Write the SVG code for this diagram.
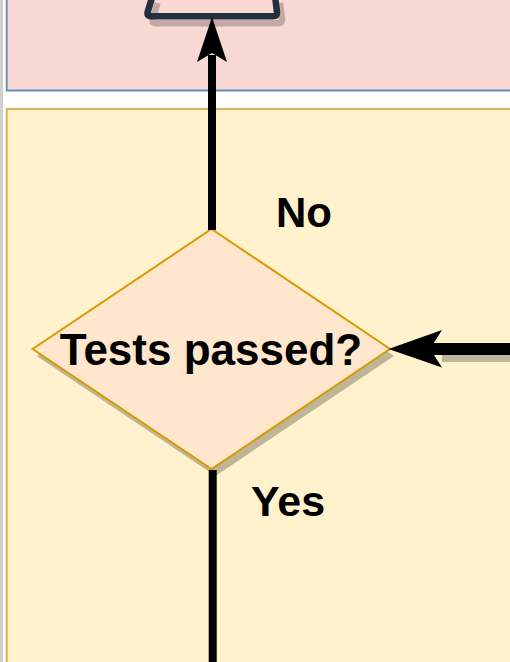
<svg xmlns="http://www.w3.org/2000/svg" width="510" height="662" viewBox="0 0 510 662">
  <defs>
    <style>
      .lbl { font-family: "Liberation Sans", Arial, sans-serif; font-weight: bold; font-size: 43px; fill: #000000; }
      .shadow { fill: #000000; opacity: 0.25; }
      .edge { stroke: #000000; fill: none; }
      .head { fill: #000000; }
    </style>
  </defs>
  <rect x="0" y="0" width="510" height="662" fill="#ffffff"/>
  <rect x="0" y="0" width="3" height="662" fill="#cfcfcf"/>

  <g id="container-top">
    <rect x="6.7" y="-10" width="620" height="100.5" fill="#fad9d5" stroke="#6c8ebf" stroke-width="2"/>
  </g>
  <g id="container-bottom">
    <rect x="6.7" y="109" width="620" height="620" fill="#fff2cc" stroke="#d6b656" stroke-width="2"/>
  </g>

  <g id="node-top">
    <path d="M152.5,-4 L147.5,12.5 Q147,16.3 151,16.3 L273,16.3 Q277,16.3 277,12.5 L275,-4" transform="translate(5,7)" fill="none" stroke="#000000" stroke-opacity="0.22" stroke-width="6.5" stroke-linejoin="round"/>
    <path d="M152.5,-4 L147.5,12.5 Q147,16.3 151,16.3 L273,16.3 Q277,16.3 277,12.5 L275,-4" fill="none" stroke="#232f3e" stroke-width="6.5" stroke-linejoin="round"/>
  </g>

  <g id="node-decision">
    <polygon points="211.5,229 390,349 211.5,469 32.7,349" transform="translate(4,7)" class="shadow"/>
    <polygon points="211.5,229 390,349 211.5,469 32.7,349" fill="#ffe6cc" stroke="#d79b00" stroke-width="2"/>
    <text x="211" y="365" text-anchor="middle" class="lbl" style="font-size:44px">Tests passed?</text>
  </g>

  <g id="connectors">
    <!-- No: up to top node -->
    <line x1="212" y1="230" x2="212" y2="55" class="edge" stroke-width="8"/>
    <polygon points="212,17 227,62 212,53 197,62" class="head"/>
    <text x="276" y="227" class="lbl" style="font-size:42px">No</text>
    <!-- Yes: down -->
    <line x1="212.7" y1="470" x2="212.7" y2="670" class="edge" stroke-width="8"/>
    <text x="251" y="516" class="lbl">Yes</text>
    <!-- from right into decision -->
    <rect x="442" y="349" width="80" height="13" class="shadow"/>
    <line x1="430" y1="349" x2="520" y2="349" class="edge" stroke-width="12"/>
    <polygon points="388.5,349 442,330 430,349 442,367.5" class="head"/>
  </g>
</svg>
